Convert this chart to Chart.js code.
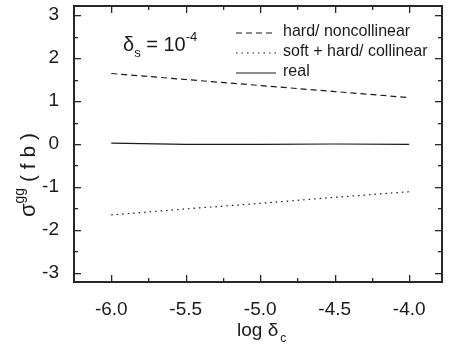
<!DOCTYPE html>
<html><head><meta charset="utf-8">
<script src="https://cdn.jsdelivr.net/npm/chart.js@4"></script>
<style>html,body{margin:0;padding:0;background:#fff}</style>
</head><body><canvas id="c" width="449" height="350"></canvas>
<script>
const logDeltaC = [-6.0, -5.5, -5.0, -4.5, -4.0];
const hardNoncollinear = [1.64, 1.50, 1.36, 1.22, 1.08];
const softHardCollinear = [-1.65, -1.51, -1.38, -1.24, -1.11];
const real = [0.02, -0.01, -0.01, 0.00, -0.01];
const xTickValues = [-6.0, -5.5, -5.0, -4.5, -4.0];
const xMinorValues = [-5.75, -5.25, -4.75, -4.25];
const yTickValues = [-3, -2, -1, 0, 1, 2, 3];
const yMinorValues = [-2.5, -1.5, -0.5, 0.5, 1.5, 2.5];
const seriesNames = ['hard/ noncollinear', 'soft + hard/ collinear', 'real'];

const INK = '#1a1a1a';
const FONT = '"Liberation Sans", Arial, Helvetica, sans-serif';
const dashStyles = [[6, 4], [1.5, 4], []];

function pts(ys) { return logDeltaC.map((x, i) => ({x, y: ys[i]})); }

const frame = {
  id: 'frame',
  afterDatasetsDraw(chart) {
    const ctx = chart.ctx, a = chart.chartArea;
    const xs = chart.scales.x, ys = chart.scales.y;
    ctx.save();
    ctx.fillStyle = 'rgb(40,40,40)';
    const L = Math.round(a.left), T = Math.round(a.top), R = Math.round(a.right), B = Math.round(a.bottom);
    ctx.fillRect(L - 1, T - 1, R - L + 2, 2);
    ctx.fillRect(L - 1, B - 1, R - L + 2, 2);
    ctx.fillRect(L - 1, T - 1, 2, B - T + 2);
    ctx.fillRect(R - 1, T - 1, 2, B - T + 2);
    xTickValues.concat(xMinorValues).forEach((v, i) => {
      const len = i < xTickValues.length ? 7 : 4;
      const px = Math.round(xs.getPixelForValue(v));
      ctx.fillRect(px, B - len, 1.3, len);
      ctx.fillRect(px, T, 1.3, len);
    });
    yTickValues.concat(yMinorValues).forEach((v, i) => {
      const len = i < yTickValues.length ? 7 : 4;
      const py = Math.round(ys.getPixelForValue(v));
      ctx.fillRect(L, py, len, 1.3);
      ctx.fillRect(R - len, py, len, 1.3);
    });
    ctx.restore();
  }
};

const texts = {
  id: 'texts',
  afterDraw(chart) {
    const ctx = chart.ctx;
    ctx.save();
    ctx.font = '16px ' + FONT;
    ctx.fillStyle = INK;
    ctx.strokeStyle = INK;
    ctx.textBaseline = 'middle';
    const ly = [33, 53, 73];
    seriesNames.forEach((n, i) => {
      ctx.beginPath();
      ctx.setLineDash(dashStyles[i]);
      ctx.lineWidth = 1.2;
      ctx.moveTo(236, ly[i]); ctx.lineTo(276, ly[i]);
      ctx.stroke();
      ctx.setLineDash([]);
      ctx.fillText(n, 283, ly[i] - 1);
    });

    ctx.textBaseline = 'alphabetic';
    let x = 123, b = 51;
    ctx.font = '20px ' + FONT; ctx.fillText('δ', x, b); x += ctx.measureText('δ').width;
    ctx.font = '13px ' + FONT; ctx.fillText('s', x, b + 6); x += ctx.measureText('s').width;
    ctx.font = '20px ' + FONT; ctx.fillText(' = 10', x, b); x += ctx.measureText(' = 10').width;
    ctx.font = '13px ' + FONT; ctx.fillText('-4', x, b - 10);

    const xParts = [['log δ', '19px', 0], ['c', '12px', 6]];
    x = 237; b = 336;
    xParts.forEach(p => { ctx.font = p[1] + ' ' + FONT; ctx.fillText(p[0], x, b + p[2]); x += ctx.measureText(p[0]).width + 2; });

    const yParts = [['σ', '22px', 0], ['gg', '14px', -11], [' ( f b )', '21px', 0]];
    let w = 0;
    yParts.forEach(p => { ctx.font = p[1] + ' ' + FONT; w += ctx.measureText(p[0]).width; });
    ctx.translate(35, 175);
    ctx.rotate(-Math.PI / 2);
    x = -w / 2;
    yParts.forEach(p => { ctx.font = p[1] + ' ' + FONT; ctx.fillText(p[0], x, p[2]); x += ctx.measureText(p[0]).width; });
    ctx.restore();
  }
};

new Chart(document.getElementById('c'), {
  type: 'line',
  data: {
    datasets: [
      {label: seriesNames[0], data: pts(hardNoncollinear), borderDash: dashStyles[0]},
      {label: seriesNames[1], data: pts(softHardCollinear), borderDash: dashStyles[1]},
      {label: seriesNames[2], data: pts(real), borderDash: dashStyles[2]}
    ].map(d => Object.assign(d, {borderColor: INK, borderWidth: 1.2, pointRadius: 0, tension: 0}))
  },
  options: {
    responsive: false, animation: false, devicePixelRatio: 1,
    layout: {padding: {top: 6, right: 7, left: 0, bottom: 0}},
    plugins: {legend: {display: false}, tooltip: {enabled: false}},
    scales: {
      x: {
        type: 'linear', min: -6.25, max: -3.78,
        afterBuildTicks: s => { s.ticks = xTickValues.map(v => ({value: v})); },
        afterFit: s => { s.height = 68; },
        grid: {display: false}, border: {display: true, color: INK, width: 1.5},
        ticks: {color: INK, font: {family: FONT, size: 19}, padding: 8, maxRotation: 0,
                callback: v => v.toFixed(1)}
      },
      y: {
        min: -3.21, max: 3.21,
        afterBuildTicks: s => { s.ticks = yTickValues.map(v => ({value: v})); },
        afterFit: s => { s.width = 74; s.paddingTop = 0; s.paddingBottom = 0; },
        grid: {display: false}, border: {display: true, color: INK, width: 1.5},
        ticks: {color: INK, font: {family: FONT, size: 19}, padding: 7,
                callback: v => String(v)}
      }
    }
  },
  plugins: [frame, texts]
});
</script>
</body></html>
